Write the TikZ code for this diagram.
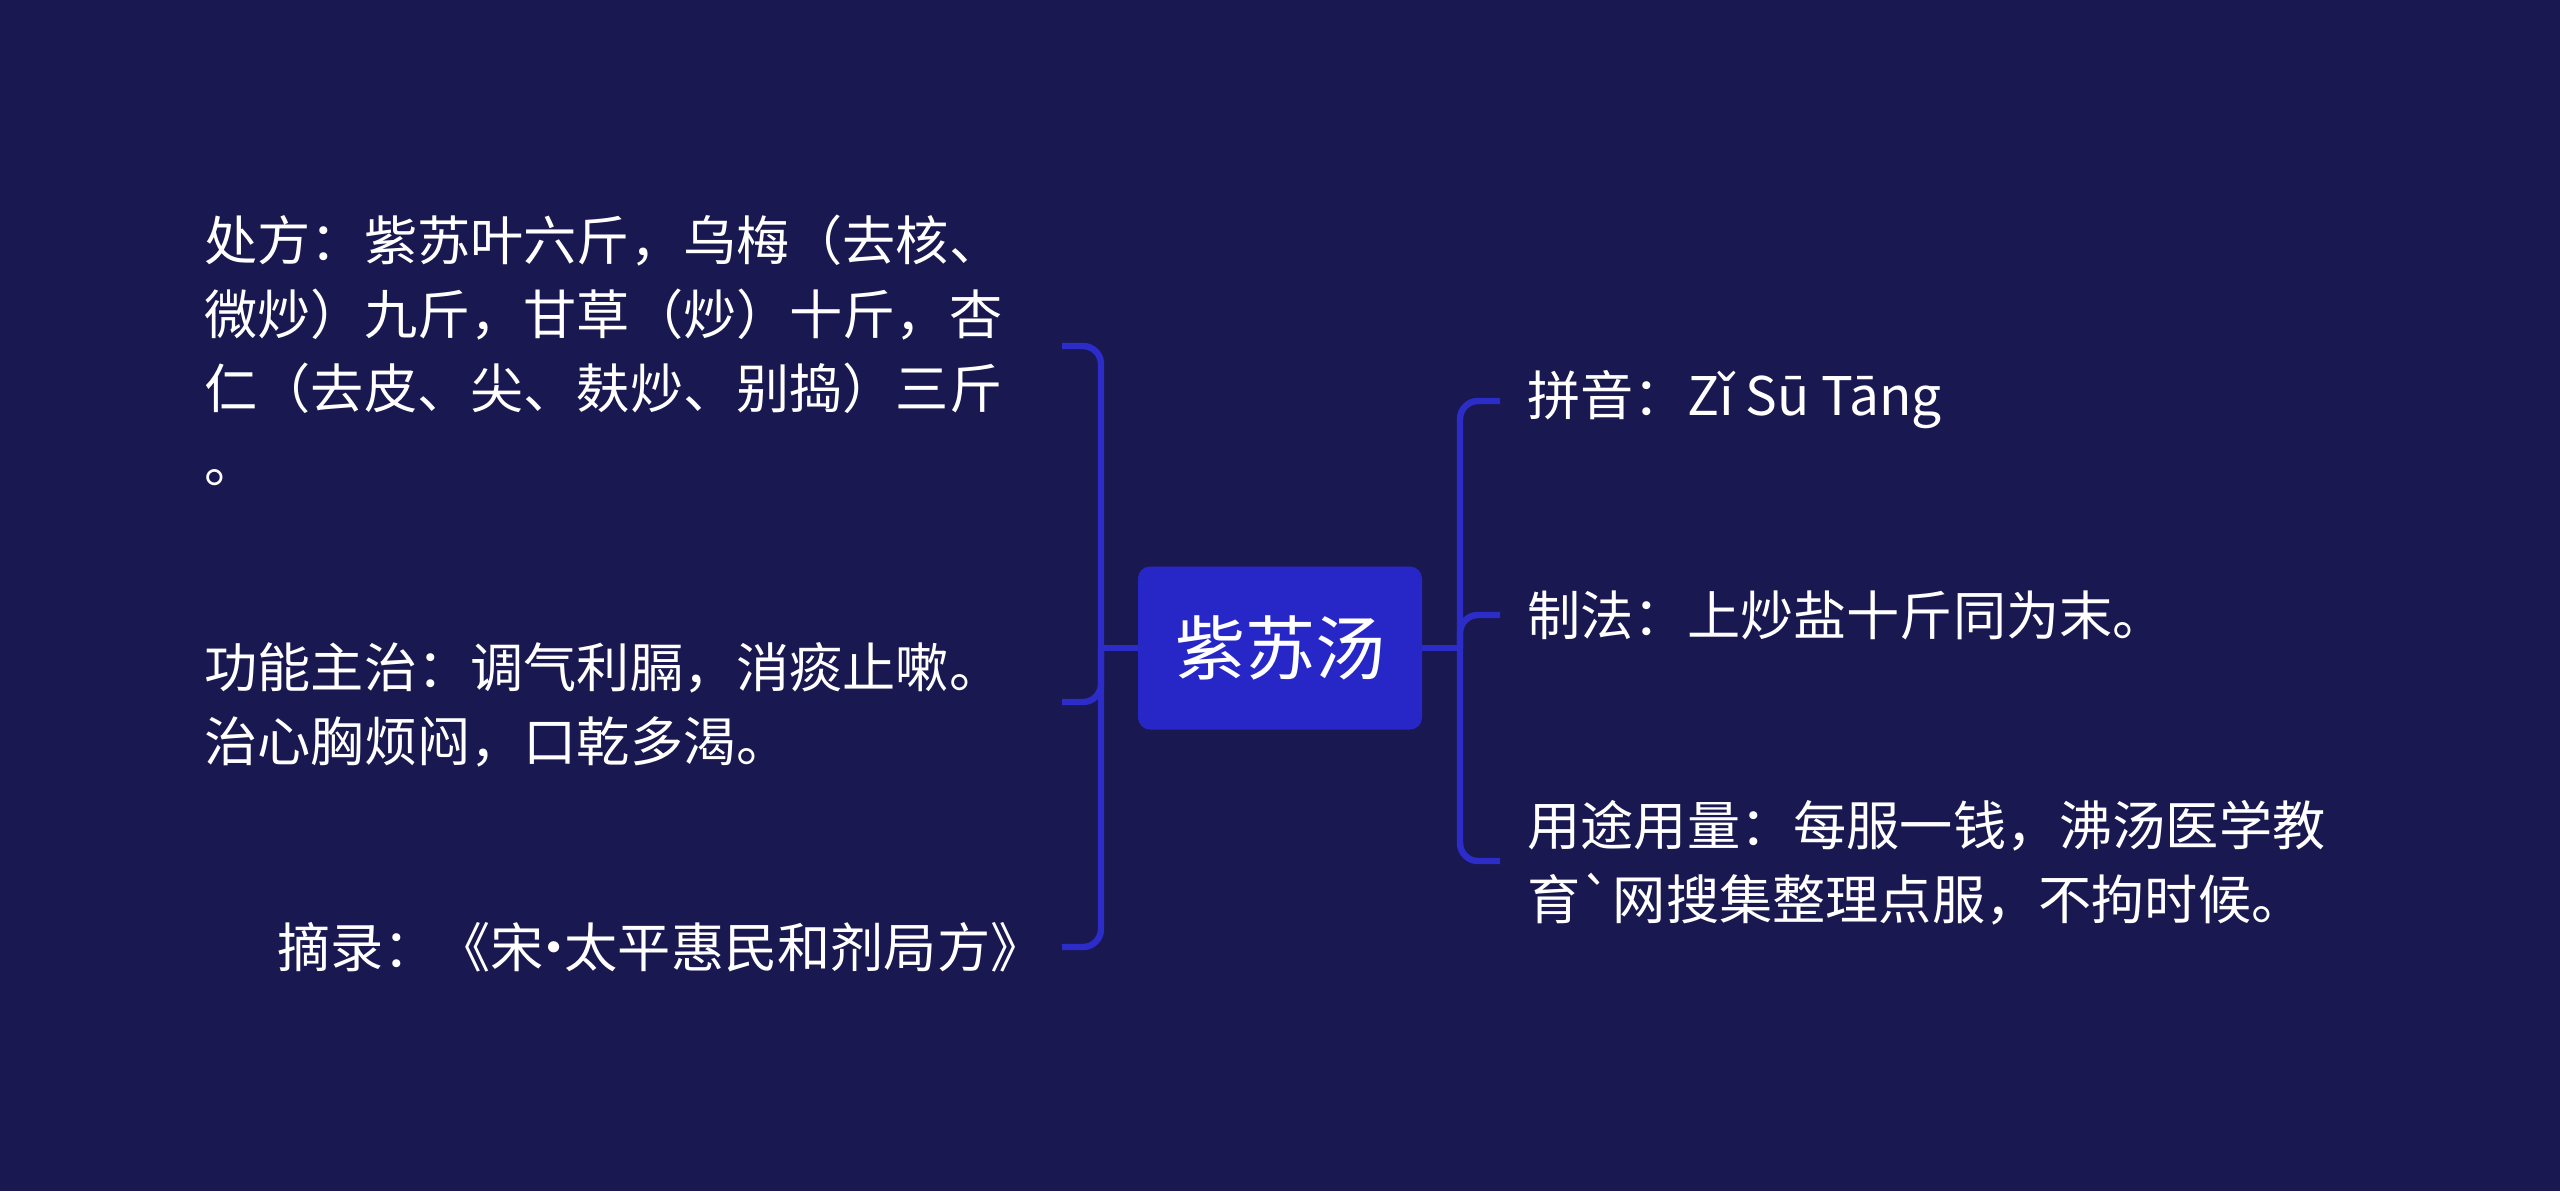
\documentclass[tikz,border=0pt]{standalone}
\usepackage{fontspec}
\setmainfont{Noto Sans CJK SC}
\definecolor{bgc}{HTML}{1A1850}
\definecolor{boxc}{HTML}{2727C8}
\definecolor{linec}{HTML}{2C2CC8}
\begin{document}
\begin{tikzpicture}[x=0.5pt,y=-0.5pt,
  leaf/.style={text=white,font=\fontsize{26.6pt}{37pt}\selectfont,align=left,inner sep=0pt,anchor=west},
  rootbox/.style={fill=boxc,rounded corners=6pt,text=white,font=\fontsize{35pt}{42pt}\selectfont,minimum width=142pt,minimum height=81.5pt,inner sep=0pt},
  conn/.style={draw=linec,line width=3.2pt,rounded corners=9pt}]
\useasboundingbox (0,0) rectangle (2560,1191);
\fill[bgc] (0,0) rectangle (2560,1191);
\node[rootbox] (root) at (1280,648) {紫苏汤};
% left side
\node[leaf] (p1) at (204,350) {处方：紫苏叶六斤，乌梅（去核、\\微炒）九斤，甘草（炒）十斤，杏\\仁（去皮、尖、麸炒、别捣）三斤\\。};
\node[leaf] (p2) at (204,705) {功能主治：调气利膈，消痰止嗽。\\治心胸烦闷，口乾多渴。};
\node[leaf] (p3) at (277,947) {摘录：《宋\makebox[0.4em][c]{·}太平惠民和剂局方》};
% right side
\node[leaf] (r1) at (1527,400) {拼音：Zǐ Sū Tāng};
\node[leaf] (r2) at (1527,615) {制法：上炒盐十斤同为末。};
\node[leaf] (r3) at (1527,863) {用途用量：每服一钱，沸汤医学教\\育{\addfontfeatures{Ligatures=TeXOff}`}网搜集整理点服，不拘时候。};
% junctions and ends
\coordinate (lj) at (1101,648);
\coordinate (rj) at (1460,648);
\coordinate (l1) at (1062,346);
\coordinate (l2) at (1062,702);
\coordinate (l3) at (1062,947);
\coordinate (q1) at (1500,401);
\coordinate (q2) at (1500,615);
\coordinate (q3) at (1500,861);
\draw[conn] (root.west) -- (lj);
\draw[conn] (root.east) -- (rj);
\draw[conn] (lj) |- (l1);
\draw[conn] (lj) |- (l2);
\draw[conn] (lj) |- (l3);
\draw[conn] (rj) |- (q1);
\draw[conn] (rj) |- (q2);
\draw[conn] (rj) |- (q3);
\end{tikzpicture}
\end{document}
